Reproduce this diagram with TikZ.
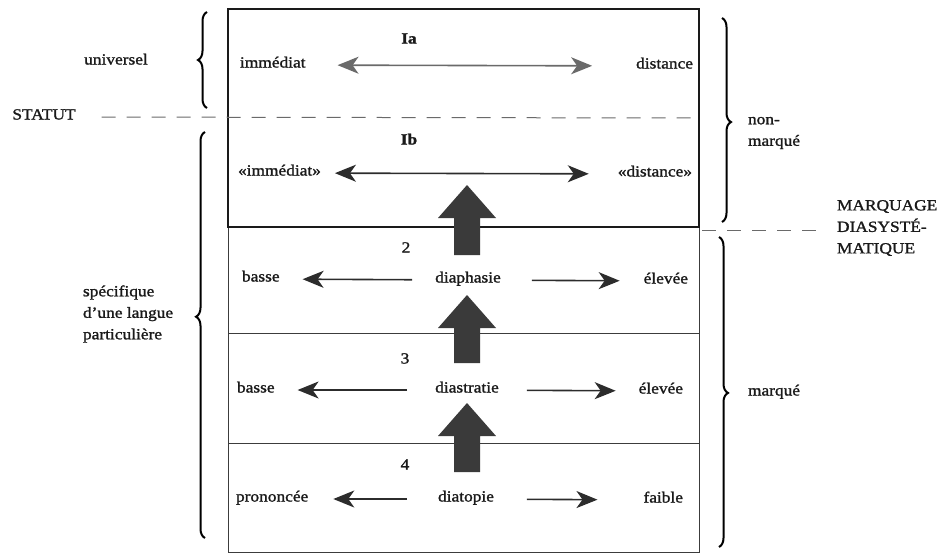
\documentclass[tikz,border=0pt]{standalone}
\usepackage{fontspec}
\setmainfont{Liberation Serif}[FakeStretch=1.12, FakeBold=1.4]
\usetikzlibrary{arrows.meta,decorations.pathreplacing}
\definecolor{ink}{HTML}{1A1A1A}
\definecolor{shade}{HTML}{3A3A3A}
\definecolor{dashgray}{HTML}{6A6A6A}
\tikzset{
  headtip/.tip={Stealth[length=21pt,width=17pt,inset=6pt]},
  lbl/.style={inner sep=0pt, outer sep=0pt, text height=0.72em, text depth=0.22em,
              font=\fontsize{15.5}{22}\selectfont, text=ink},
  multi/.style={inner sep=0pt, outer sep=0pt, align=left,
              font=\fontsize{15.5}{21.5}\selectfont, text=ink},
  arr/.style={draw=ink!92, line width=1.6pt, -headtip},
  frame/.style={draw=ink, line width=1.8pt},
  rule/.style={draw=ink!85, line width=1pt},
  dashline/.style={draw=dashgray, line width=1pt, dash pattern=on 14pt off 11pt},
  bracedraw/.style={draw=black, line width=2pt, decorate,
              decoration={brace, amplitude=9pt, aspect=#1}},
  bigarrow/.style={fill=shade, draw=none}
}
\begin{document}
\begin{tikzpicture}[x=1pt,y=-1pt]
\useasboundingbox (0,0) rectangle (939,555);

% table: lower levels (thin rules) and the upper unmarked box (heavy frame)
\draw[rule] (228,227) -- (228,552) -- (699,552) -- (699,227);
\draw[rule] (228,333) -- (699,333);
\draw[rule] (228,443) -- (699,443);
\draw[frame] (228,9) rectangle (699,227);

% thick upward arrows between the levels
\fill[bigarrow] (454,255) -- (454,218) -- (438,218) -- (467,185) -- (496,218) -- (480,218) -- (480,255) -- cycle;
\fill[bigarrow] (454,363) -- (454,328) -- (438,328) -- (467,295) -- (496,328) -- (480,328) -- (480,363) -- cycle;
\fill[bigarrow] (454,472) -- (454,436) -- (438,436) -- (467,403) -- (496,436) -- (480,436) -- (480,472) -- cycle;

% level numbers
\node[lbl, font=\fontsize{15.5}{22}\selectfont\bfseries] (n1a) at (409,41) {Ia};
\node[lbl, font=\fontsize{15.5}{22}\selectfont\bfseries] (n1b) at (409,142) {Ib};
\node[lbl] (n2) at (406,250) {2};
\node[lbl] (n3) at (405,361) {3};
\node[lbl] (n4) at (405,467) {4};

% level Ia
\node[lbl, anchor=west] (imm) at (240,65) {immédiat};
\node[lbl, anchor=east] (dist) at (693,66) {distance};
\draw[arr, headtip-headtip, draw=ink!65, shorten <=32pt, shorten >=44pt] (imm) -- (dist);

% level Ib
\node[lbl, anchor=west] (immq) at (238,173) {«immédiat»};
\node[lbl, anchor=east] (distq) at (692,174) {«distance»};
\draw[arr, headtip-headtip, shorten <=14pt, shorten >=29pt] (immq) -- (distq);

% level 2
\node[lbl, anchor=west] (bas2) at (242,279) {basse};
\node[lbl] (dphs) at (468,280) {diaphasie};
\node[lbl, anchor=east] (elv2) at (688,281) {élevée};
\draw[arr, shorten <=23pt, shorten >=23pt] (dphs) -- (bas2);
\draw[arr, shorten <=31pt, shorten >=24pt] (dphs) -- (elv2);

% level 3
\node[lbl, anchor=west] (bas3) at (237,390) {basse};
\node[lbl] (dstr) at (467,390) {diastratie};
\node[lbl, anchor=east] (elv3) at (683,391) {élevée};
\draw[arr, shorten <=28pt, shorten >=23pt] (dstr) -- (bas3);
\draw[arr, shorten <=28pt, shorten >=23pt] (dstr) -- (elv3);

% level 4
\node[lbl, anchor=west] (pron) at (236,499) {prononcée};
\node[lbl] (dtop) at (466,499) {diatopie};
\node[lbl, anchor=east] (faib) at (683,500) {faible};
\draw[arr, shorten <=31pt, shorten >=25pt] (dtop) -- (pron);
\draw[arr, shorten <=33pt, shorten >=46pt] (dtop) -- (faib);

% left side: status
\node[lbl] (univ) at (116,62) {universel};
\node[multi, anchor=west] (spec) at (83,314) {spécifique\\d'une langue\\particulière};
\draw[bracedraw=0.5] (207,108) -- (207,12);
\draw[bracedraw=0.545] (205,538) -- (205,132);

\node[lbl] (statut) at (44,117) {STATUT};
\coordinate (statR) at (694,118);
\draw[dashline, shorten <=26pt] (statut.east) -- (statR);

% right side: diasystematic marking
\draw[bracedraw=0.51] (722,18) -- (722,222);
\draw[bracedraw=0.503] (719,237) -- (719,547);
\node[multi, anchor=west] (nonm) at (748,133) {non-\\marqué};
\node[lbl, anchor=west] (marq) at (748,393) {marqué};

\node[multi, anchor=west] (mdia) at (837,228) {MARQUAGE\\DIASYSTÉ-\\MATIQUE};
\coordinate (mdiaL) at (702,230);
\draw[dashline, shorten >=19pt] (mdiaL) -- (mdiaL -| mdia.west);
\end{tikzpicture}
\end{document}
